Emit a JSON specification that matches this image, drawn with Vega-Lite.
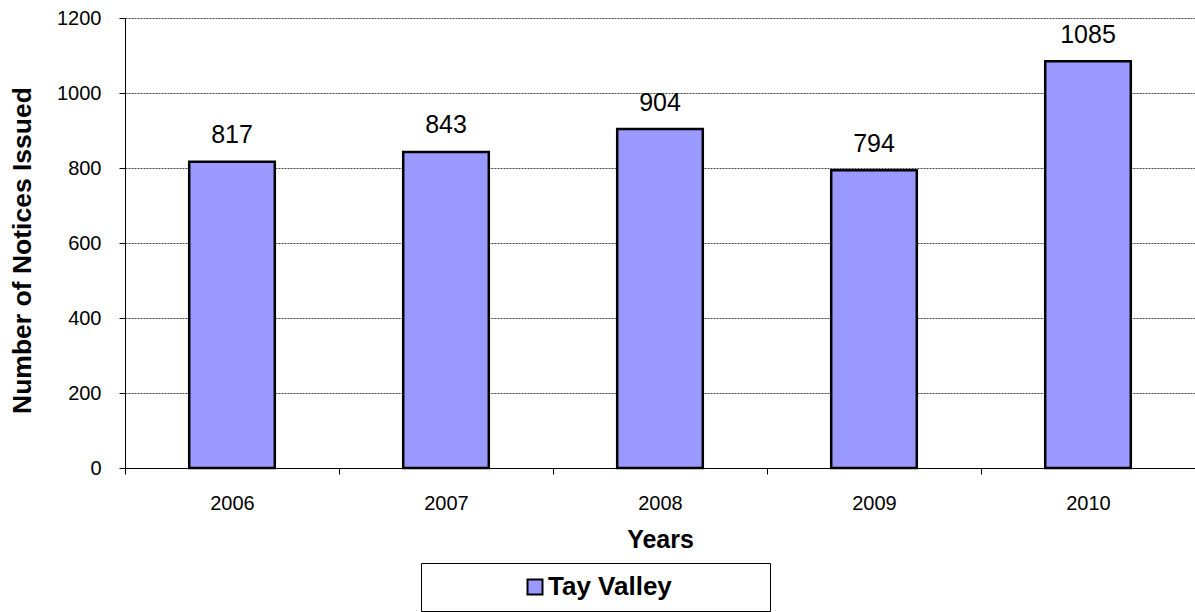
{
  "$schema": "https://vega.github.io/schema/vega-lite/v6.json",
  "autosize": "none",
  "width": 1070,
  "height": 450,
  "padding": {"left": 125, "top": 18, "right": 0, "bottom": 144},
  "background": "white",
  "config": {
    "font": "Liberation Sans",
    "view": {"stroke": null}
  },
  "data": {
    "values": [
      {"year": "2006", "notices": 817, "series": "Tay Valley"},
      {"year": "2007", "notices": 843, "series": "Tay Valley"},
      {"year": "2008", "notices": 904, "series": "Tay Valley"},
      {"year": "2009", "notices": 794, "series": "Tay Valley"},
      {"year": "2010", "notices": 1085, "series": "Tay Valley"}
    ]
  },
  "encoding": {
    "x": {
      "field": "year",
      "type": "ordinal",
      "scale": {"paddingInner": 0, "paddingOuter": 0},
      "axis": {
        "title": "Years",
        "titleFont": "Liberation Sans",
        "titleFontSize": 25,
        "titleFontWeight": "bold",
        "titleColor": "black",
        "titlePadding": 14,
        "labelAngle": 0,
        "labelFontSize": 20,
        "labelColor": "black",
        "labelPadding": 19,
        "tickBand": "extent",
        "tickSize": 6,
        "tickColor": "black",
        "domainColor": "black",
        "grid": false
      }
    },
    "y": {
      "field": "notices",
      "type": "quantitative",
      "scale": {"domain": [0, 1200], "nice": false},
      "axis": {
        "title": "Number of Notices Issued",
        "titleFontSize": 26.5,
        "titleFontWeight": "bold",
        "titleColor": "black",
        "titlePadding": 20,
        "titleY": 232,
        "format": "d",
        "values": [0, 200, 400, 600, 800, 1000, 1200],
        "labelFontSize": 20,
        "labelColor": "black",
        "labelPadding": 18,
        "tickSize": 6,
        "tickColor": "black",
        "domainColor": "black",
        "grid": true,
        "gridColor": "#444444",
        "gridDash": [2, 1],
        "gridWidth": 1
      }
    }
  },
  "layer": [
    {
      "mark": {"type": "bar", "width": {"band": 0.4}, "stroke": "black", "strokeWidth": 2.5},
      "encoding": {
        "color": {
          "field": "series",
          "type": "nominal",
          "scale": {"range": ["#9999FF"]},
          "legend": {
            "orient": "none",
            "legendX": 296,
            "legendY": 545,
            "direction": "horizontal",
            "title": " ",
            "titleOrient": "left",
            "titleFontSize": 1,
            "titlePadding": 90,
            "padding": 11,
            "strokeColor": "black",
            "fillColor": "white",
            "symbolType": "square",
            "symbolSize": 225,
            "symbolStrokeColor": "black",
            "symbolStrokeWidth": 2,
            "symbolOpacity": 1,
            "labelFontSize": 26,
            "labelFontWeight": "bold",
            "labelColor": "black",
            "labelOffset": 0,
            "labelLimit": 0,
            "labelExpr": "datum.label + '\u2007\u2007\u2007\u2007\u2007\u2007\u200b'"
          }
        }
      }
    },
    {
      "mark": {"type": "text", "baseline": "alphabetic", "dy": -18.5, "fontSize": 25, "color": "black"},
      "encoding": {
        "text": {"field": "notices", "type": "quantitative"}
      }
    }
  ]
}
